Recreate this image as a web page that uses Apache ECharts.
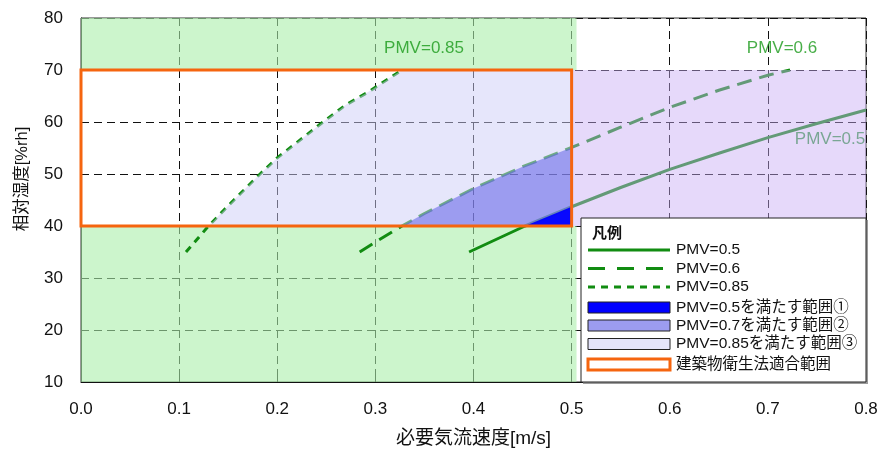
<!DOCTYPE html>
<html><head><meta charset="utf-8">
<script src="https://cdn.jsdelivr.net/npm/echarts@6/dist/echarts.min.js"></script>
<style>html,body{margin:0;padding:0;background:#fff}#c{width:881px;height:453px}</style>
</head><body><div id="c"></div>
<script>
// ---- data ----
const xTicks = [0, 0.1, 0.2, 0.3, 0.4, 0.5, 0.6, 0.7, 0.8];
const yTicks = [10, 20, 30, 40, 50, 60, 70, 80];
const xAxisTitle = '必要気流速度[m/s]';
const yAxisTitle = '相対湿度[%rh]';
const pmv05 = [[0.3955,35],[0.4525,40],[0.5,43.7],[0.55,47.4],[0.6,50.9],[0.65,54.0],[0.7,57.0],[0.75,59.7],[0.8,62.3]];
const pmv06 = [[0.284,35],[0.3,36.9],[0.327,40],[0.35,42.4],[0.4,47.2],[0.45,51.4],[0.5,55.1],[0.55,59.0],[0.6,62.8],[0.65,66.1],[0.7,69.0],[0.7226,70]];
const pmv085 = [[0.107,35],[0.13,40],[0.15,43.9],[0.1825,50],[0.2,53.1],[0.2467,60],[0.27,63.3],[0.293,65.8],[0.327,70]];
const rhRange = [40, 70];       // 建築物衛生法 humidity range
const velocityLimit = 0.5;      // 建築物衛生法 velocity limit
const greenEdge = 0.505;
const legendNames = ['PMV=0.5','PMV=0.6','PMV=0.85','PMV=0.5を満たす範囲①','PMV=0.7を満たす範囲②','PMV=0.85を満たす範囲③','建築物衛生法適合範囲'];

// ---- derived polygons ----
const inRect = p => p[1] >= rhRange[0] && p[1] <= rhRange[1] && p[0] <= velocityLimit;
const region3 = pmv085.filter(inRect).concat([[velocityLimit, rhRange[1]], [velocityLimit, rhRange[0]]]);
const region2 = pmv06.filter(inRect).concat([[velocityLimit, rhRange[0]]]);
const region1 = pmv05.filter(inRect).concat([[velocityLimit, rhRange[0]]]);
const xMax = xTicks[xTicks.length-1], yMin = yTicks[0], yMax = yTicks[yTicks.length-1];
const purple = [[velocityLimit, rhRange[0]], [xMax, rhRange[0]], [xMax, rhRange[1]], [velocityLimit, rhRange[1]]];
const greenTop = [[0, rhRange[1]], [greenEdge, rhRange[1]], [greenEdge, yMax], [0, yMax]];
const greenBottom = [[0, yMin], [greenEdge, yMin], [greenEdge, rhRange[0]], [0, rhRange[0]]];
const lawRect = [[0, rhRange[0]], [velocityLimit, rhRange[0]], [velocityLimit, rhRange[1]], [0, rhRange[1]]];

const FONT = "'Liberation Sans', Arial, 'Noto Sans CJK JP', sans-serif";
const LINE = '#118c11';

function poly(name, pts, style, z) {
  return {
    type: 'custom', name: name, z: z, silent: true, data: [[0, yMin]],
    renderItem: (params, api) => ({
      type: 'polygon',
      shape: { points: pts.map(q => api.coord(q)) },
      style: style
    })
  };
}
function line(name, data, type, z) {
  return { type: 'line', name: name, data: data, showSymbol: false, symbol: 'none', z: z, silent: true,
    lineStyle: { color: LINE, width: 3, type: type }, animation: false };
}

// ---- legend graphic ----
const LX = 581, LY = 218, LW = 285, LH = 164;
const rowY = [250, 268.5, 287, 307.5, 325.5, 344, 364.5];
const sx0 = 588, sx1 = 670, tx = 676;
const g = [];
g.push({ type: 'rect', shape: { x: LX + 2, y: LY + 2, width: LW, height: LH }, style: { fill: '#9a9a9a' }, z: 100 });
g.push({ type: 'rect', shape: { x: LX, y: LY, width: LW, height: LH }, style: { fill: '#fff', stroke: '#222', lineWidth: 1 }, z: 101 });
g.push({ type: 'text', x: 592, y: 234, style: { text: '凡例', font: 'bold 15px ' + FONT, fill: '#111', verticalAlign: 'middle' }, z: 102 });
const lineTypes = ['solid', [17, 12], [7, 6]];
for (let i = 0; i < 3; i++) {
  g.push({ type: 'line', shape: { x1: sx0, y1: rowY[i], x2: sx1, y2: rowY[i] }, style: { stroke: LINE, lineWidth: 3, lineDash: lineTypes[i] === 'solid' ? null : lineTypes[i] }, z: 102 });
}
const fills = ['#0000ff', '#9c9cf0', '#e4e4fa'];
for (let i = 0; i < 3; i++) {
  g.push({ type: 'rect', shape: { x: sx0, y: rowY[3+i] - 5.5, width: sx1 - sx0, height: 11 }, style: { fill: fills[i], stroke: '#222', lineWidth: 1 }, z: 102 });
}
g.push({ type: 'rect', shape: { x: sx0, y: rowY[6] - 5.5, width: sx1 - sx0, height: 11 }, style: { fill: '#fff', stroke: '#f5650f', lineWidth: 3 }, z: 102 });
legendNames.forEach((n, i) => {
  g.push({ type: 'text', x: tx, y: rowY[i], style: { text: n, font: '15.5px ' + FONT, fill: '#111', verticalAlign: 'middle' }, z: 102 });
});

const chart = echarts.init(document.getElementById('c'), null, { renderer: 'canvas' });
chart.setOption({
  animation: false,
  textStyle: { fontFamily: FONT },
  grid: { left: 81, right: 15, top: 18, bottom: 71, show: true, borderColor: '#333', borderWidth: 1, backgroundColor: 'transparent' },
  xAxis: {
    type: 'value', min: xTicks[0], max: xMax, interval: 0.1,
    name: xAxisTitle, nameLocation: 'middle', nameGap: 47,
    nameTextStyle: { fontSize: 19, color: '#111', fontFamily: FONT },
    axisLine: { lineStyle: { color: '#111', width: 1 } },
    axisTick: { show: true, inside: true, length: 5, lineStyle: { color: '#111' } },
    axisLabel: { fontSize: 17, color: '#111', margin: 19, formatter: v => v.toFixed(1) },
    splitLine: { show: true, lineStyle: { color: '#111', width: 1, type: [8, 5] } }
  },
  yAxis: {
    type: 'value', min: yMin, max: yMax, interval: 10,
    name: yAxisTitle, nameLocation: 'middle', nameGap: 50, nameRotate: 90,
    nameTextStyle: { fontSize: 16.5, color: '#111', fontFamily: FONT, padding: [0, 0, 0, 42] },
    axisLine: { show: true, lineStyle: { color: '#111', width: 1 } },
    axisTick: { show: true, inside: true, length: 5, lineStyle: { color: '#111' } },
    axisLabel: { fontSize: 17, color: '#111', margin: 18 },
    splitLine: { show: true, lineStyle: { color: '#111', width: 1, type: [8, 5] } }
  },
  series: [
    poly('greenTop', greenTop, { fill: 'rgba(170,238,170,0.6)' }, 1),
    poly('greenBottom', greenBottom, { fill: 'rgba(170,238,170,0.6)' }, 1),
    line(legendNames[0], pmv05, 'solid', 2),
    line(legendNames[1], pmv06, [15, 8], 2),
    line(legendNames[2], pmv085, [7, 6], 2),
    poly('purple', purple, { fill: 'rgba(200,170,245,0.45)' }, 3),
    poly(legendNames[5], region3, { fill: 'rgba(205,205,248,0.5)' }, 3),
    poly(legendNames[4], region2, { fill: 'rgba(96,96,232,0.55)' }, 4),
    poly(legendNames[3], region1, { fill: 'rgba(0,0,255,0.95)' }, 5),
    poly(legendNames[6], lawRect, { fill: 'none', stroke: '#f5650f', lineWidth: 3 }, 6),
    {
      type: 'scatter', z: 7, silent: true, symbolSize: 0,
      label: { show: true, position: 'inside', formatter: p => p.name, fontSize: 17, fontFamily: FONT },
      data: [
        { name: 'PMV=0.85', value: [0.3496, 74.2], label: { color: '#1a9a1a' } },
        { name: 'PMV=0.6', value: [0.7144, 74.2], label: { color: '#1a9a1a' } },
        { name: 'PMV=0.5', value: [0.7633, 56.7], label: { color: '#5f9a7a' } }
      ]
    }
  ],
  graphic: g
});
</script></body></html>
